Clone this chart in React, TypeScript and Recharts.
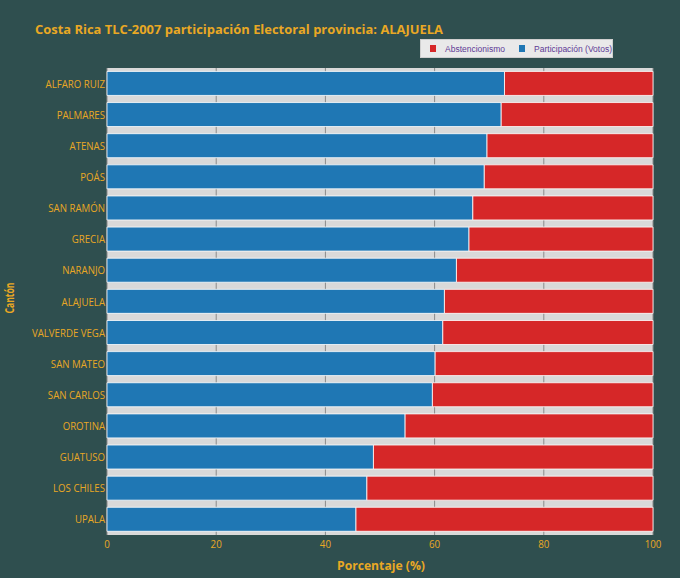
import React from 'react';
import { BarChart, Bar, XAxis, YAxis, CartesianGrid } from 'recharts';

const cantones = [
  'ALFARO RUIZ', 'PALMARES', 'ATENAS', 'POÁS', 'SAN RAMÓN', 'GRECIA', 'NARANJO',
  'ALAJUELA', 'VALVERDE VEGA', 'SAN MATEO', 'SAN CARLOS', 'OROTINA', 'GUATUSO',
  'LOS CHILES', 'UPALA',
];
const participacion = [72.8, 72.2, 69.6, 69.1, 67.0, 66.3, 64.0, 61.8, 61.5, 60.1, 59.6, 54.6, 48.8, 47.6, 45.6];
const abstencionismo = [27.2, 27.8, 30.4, 30.9, 33.0, 33.7, 36.0, 38.2, 38.5, 39.9, 40.4, 45.4, 51.2, 52.4, 54.4];
const xTicks = [0, 20, 40, 60, 80, 100];

const BG = '#2f4f4f';
const GOLD = '#e9a824';
const BLUE = '#1f77b4';
const RED = '#d62728';

const data = cantones.map((c, i) => ({
  canton: c,
  participacion: participacion[i],
  abstencionismo: abstencionismo[i],
}));

function YTick({ x, y, payload }: any) {
  return (
    <text transform={`translate(${x},${y}) scale(0.84,1)`} textAnchor="end" dy="0.35em"
      fill={GOLD} fontSize={11.5} fontFamily="Open Sans">
      {payload.value}
    </text>
  );
}

function XTick({ x, y, payload }: any) {
  return (
    <text transform={`translate(${x},${y + 13}) scale(0.85,1)`} textAnchor="middle"
      fill={GOLD} fontSize={11.5} fontFamily="Open Sans">
      {payload.value}
    </text>
  );
}

function LegendBox() {
  return (
    <div style={{
      position: 'absolute', left: 420, top: 39,
      width: 193, height: 19, background: '#e9e9e9', border: '1px solid #cfcfcf',
      boxSizing: 'border-box', display: 'flex', alignItems: 'center', whiteSpace: 'nowrap',
      fontFamily: 'Liberation Sans', fontSize: 8.5, color: '#5e3a96',
    }}>
      <span style={{ width: 7, height: 7, background: RED, marginLeft: 9, marginRight: 9 }} />
      <span>Abstencionismo</span>
      <span style={{ width: 7, height: 7, background: BLUE, marginLeft: 14, marginRight: 9 }} />
      <span>Participación (Votos)</span>
    </div>
  );
}

export default function App() {
  return (
    <div style={{ position: 'absolute', left: 0, top: 0, width: 680, height: 578, background: BG }}>
      <style>{'body{margin:0}'}</style>
      <BarChart width={680} height={578} data={data} layout="vertical"
        margin={{ top: 68, right: 27, left: 0, bottom: 0 }} barCategoryGap="11%">
        <CartesianGrid fill="#d9d9d9" stroke="#8a8a8a" horizontal={false} vertical={true} />
        <XAxis type="number" domain={[0, 100]} ticks={xTicks} height={43}
          axisLine={false} tickLine={false} tickSize={0} tickMargin={0} tick={<XTick />} />
        <YAxis type="category" dataKey="canton" width={107}
          axisLine={false} tickLine={false} tickSize={0} tickMargin={2} tick={<YTick />} interval={0} />
        <Bar dataKey="participacion" stackId="a" fill={BLUE} stroke="#ffffff" strokeWidth={0.8}
          isAnimationActive={false} />
        <Bar dataKey="abstencionismo" stackId="a" fill={RED} stroke="#ffffff" strokeWidth={0.8}
          isAnimationActive={false} />
      </BarChart>
      <LegendBox />
      <svg width={680} height={578} style={{ position: 'absolute', left: 0, top: 0, pointerEvents: 'none' }}>
        <text x={35} y={34} textLength={408} lengthAdjust="spacingAndGlyphs"
          fill={GOLD} fontSize={13} fontWeight="bold" fontFamily="Open Sans">
          Costa Rica TLC-2007 participación Electoral provincia: ALAJUELA
        </text>
        <text x={381} y={570} textLength={88} lengthAdjust="spacingAndGlyphs" textAnchor="middle"
          fill={GOLD} fontSize={13} fontWeight="bold" fontFamily="Open Sans">
          Porcentaje (%)
        </text>
        <text transform="translate(14,298) rotate(-90)" textLength={31} lengthAdjust="spacingAndGlyphs"
          textAnchor="middle" fill={GOLD} fontSize={13} fontWeight="bold" fontFamily="Open Sans">
          Cantón
        </text>
      </svg>
    </div>
  );
}
